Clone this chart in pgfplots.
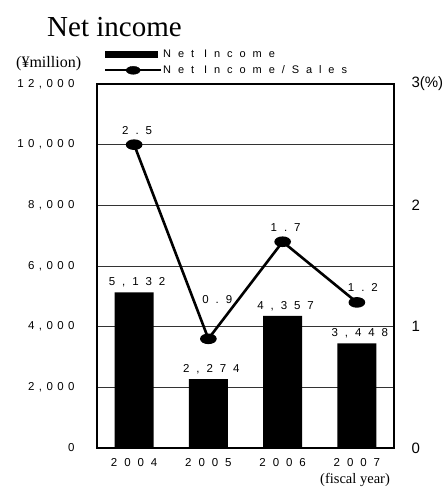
\documentclass[border=0pt]{standalone}
\usepackage{pgfplots}
\pgfplotsset{compat=1.18}
\usepackage{fontspec}
\setmainfont{Liberation Serif}
\newfontfamily\arial{Liberation Sans}
\newfontfamily\spaced[LetterSpace=38]{Liberation Sans}
\newfontfamily\spacedwide[LetterSpace=60]{Liberation Sans}
\newfontfamily\spacedlegend[LetterSpace=63]{Liberation Sans}

\begin{document}
\begin{tikzpicture}[x=1bp,y=1bp]
\useasboundingbox (0,0) rectangle (444,489);

% left axis: net income bars
\begin{axis}[
  at={(97bp,41bp)}, anchor=south west,
  scale only axis, width=297bp, height=364bp,
  xmin=-0.5, xmax=3.5, ymin=0, ymax=12000,
  scaled y ticks=false,
  axis line style={line width=1.8bp},
  xtick={0,1,2,3},
  xticklabels={2004,2005,2006,2007},
  major x tick style={draw=none},
  extra x ticks={0.5,1.5,2.5},
  extra x tick labels={},
  extra x tick style={major tick length=4bp, tick style={line width=1bp, black}, tick align=inside},
  xticklabel style={font=\spacedwide\fontsize{11.5bp}{13bp}\selectfont, yshift=-9bp, inner sep=1bp},
  ytick={0,2000,...,12000},
  yticklabels={0,{2,000},{4,000},{6,000},{8,000},{10,000},{12,000}},
  yticklabel style={font=\spaced\fontsize{11.5bp}{13bp}\selectfont, xshift=-19bp},
  major y tick style={draw=none},
  ymajorgrids, major grid style={black!80, line width=0.7bp},
  legend style={at={(0.0236,1.098)}, anchor=north west, draw=none, fill=none,
    inner sep=0pt, row sep=5bp, nodes={inner sep=1bp}},
  legend cell align=left,
]
\addplot[ybar, bar width=39bp, fill=black, draw=none,
  nodes near coords={\pgfmathprintnumber[assume math mode=true]{\pgfplotspointmeta}},
  nodes near coords style={font=\spacedwide\fontsize{11.5bp}{13bp}\selectfont, anchor=south, inner sep=1bp, yshift=4bp, xshift=3bp},
  legend image code/.code={\fill[black] (0,-3.5bp) rectangle (53bp,3.5bp);}]
  coordinates {(0,5132) (1,2274) (2,4357) (3,3448)};
\addlegendentry{\spacedlegend\fontsize{11bp}{13bp}\selectfont Net Income}
\addlegendimage{legend image code/.code={
  \draw[black, line width=2bp] (0,0) -- (56bp,0);
  \fill[black] (28bp,0) ellipse (7bp and 4bp);}}
\addlegendentry{\spacedlegend\fontsize{11bp}{13bp}\selectfont Net Income/Sales}
\end{axis}

% right axis: net income / sales (%)
\begin{axis}[
  at={(97bp,41bp)}, anchor=south west,
  scale only axis, width=297bp, height=364bp,
  xmin=-0.5, xmax=3.5, ymin=0, ymax=3,
  hide x axis,
  axis y line*=right,
  axis line style={line width=1.8bp},
  ytick={0,1,2,3},
  yticklabels={0,1,2,{3(\%)}},
  major y tick style={draw=none},
  yticklabel style={font=\arial\fontsize{15bp}{17bp}\selectfont, anchor=west, xshift=14bp},
]
\addplot[black, line width=2.6bp, mark=*, mark size=4bp, mark options={xscale=1.75},
  point meta=explicit symbolic,
  visualization depends on={\thisrow{dx} \as \dx},
  visualization depends on={\thisrow{dy} \as \dy},
  nodes near coords,
  nodes near coords style={font=\spacedwide\fontsize{11.5bp}{13bp}\selectfont, anchor=south, inner sep=1bp, xshift=\dx, yshift=\dy}]
  table[x=x, y=y, meta=lab] {
x y   lab dx  dy
0 2.5 2.5 3   8
1 0.9 0.9 9   33
2 1.7 1.7 3   8
3 1.2 1.2 6   9
};
\end{axis}

\node[anchor=base west, inner sep=0, font=\fontsize{29bp}{32bp}\selectfont] at (47,452) {Net income};
\node[anchor=base west, inner sep=0, font=\fontsize{16bp}{18bp}\selectfont] at (16,421) {(¥million)};
\node[anchor=base west, inner sep=0, font=\fontsize{14.5bp}{16bp}\selectfont] at (320,5) {(fiscal year)};
\end{tikzpicture}
\end{document}
